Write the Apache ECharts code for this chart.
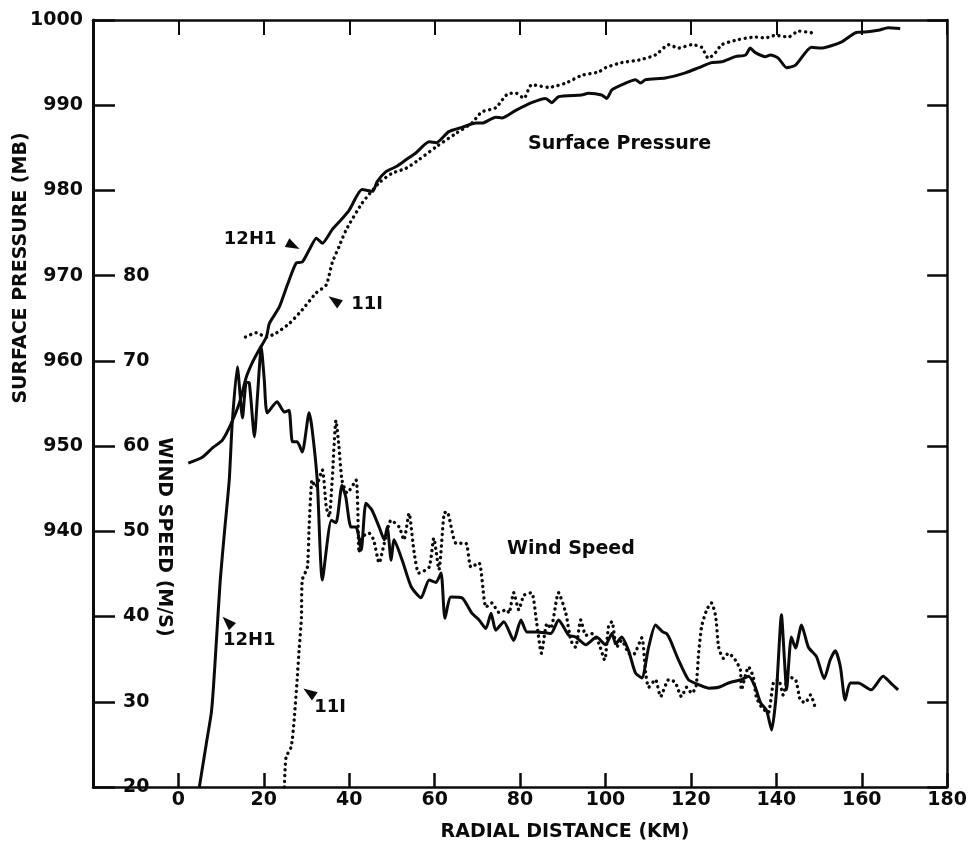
<!DOCTYPE html>
<html><head><meta charset="utf-8">
<script src="https://cdn.jsdelivr.net/npm/echarts@6/dist/echarts.min.js"></script>
<style>html,body{margin:0;padding:0;background:#fff}#c{width:970px;height:841px}</style>
</head><body><div id="c"></div>
<script>
// ---- data (radial distance km, value) ----
const xTickLabels = [0,20,40,60,80,100,120,140,160,180];
const pressureTickLabels = [940,950,960,970,980,990,1000];
const windTickLabels = [20,30,40,50,60,70,80];

const pressure12H1 = [[2.3,948],[5.6,948.7],[8,949.8],[10.3,950.7],[12.4,952.7],[14.3,955.1],[15.9,958.1],[17.3,959.8],[18.9,961.3],[20.6,962.8],[21.3,964.4],[23.6,966.3],[25.5,968.9],[27.6,971.5],[29,971.6],[30.6,973],[32.3,974.4],[33.7,973.8],[36,975.4],[38,976.5],[40,977.7],[43,980.1],[45.5,979.9],[46.5,981],[48.6,982.2],[51,982.8],[53.3,983.6],[55.6,984.4],[58.7,985.7],[60.4,985.6],[63.3,986.9],[66.4,987.4],[69.7,987.9],[71.1,987.9],[74.3,988.6],[75.7,988.5],[79,989.4],[82.7,990.3],[86,990.8],[87.4,990.3],[89,991],[94.4,991.2],[96,991.4],[99.1,991.2],[100.3,990.8],[101.5,991.8],[104.7,992.6],[107,993],[108.2,992.6],[109.4,993],[114,993.2],[118.7,993.8],[121.8,994.4],[124.8,995],[127.2,995.1],[130.4,995.7],[132.8,995.9],[133.9,996.7],[135,996.2],[137.4,995.7],[138.6,995.9],[140.5,995.5],[142.4,994.4],[144.5,994.7],[148.2,996.8],[150.5,996.7],[155.2,997.4],[158.5,998.5],[160.8,998.6],[163.9,998.8],[166.2,999.1],[169,999]];

const pressure11I = [[15.7,962.8],[18.2,963.3],[20.6,962.8],[23,963.3],[26,964.4],[29,966],[32.3,968],[34.6,968.9],[36,971.5],[37.6,973.4],[39.3,975.4],[43,978.5],[47,980.9],[50,982],[53.3,982.6],[56.3,983.6],[60.3,985.1],[65,986.7],[68.7,987.9],[71,989.2],[74.3,989.7],[77.4,991.4],[79.1,991.4],[80.9,990.8],[82.7,992.4],[86.7,992.1],[90.7,992.6],[94.4,993.5],[98.4,993.9],[100,994.4],[103.8,995],[107.8,995.3],[111.7,995.9],[114.8,997.1],[117.1,996.7],[120.2,997.1],[122.5,996.8],[124.1,995.5],[125.8,996.2],[127.2,997.1],[131.1,997.7],[135.1,998],[137.4,997.9],[139.8,998.2],[142.8,998],[145.2,998.7],[148.2,998.5]];

const wind12H1 = [[4.9,20],[6.5,25],[7.7,28.7],[8.2,31.7],[8.9,37.2],[9.8,44.3],[10.8,50],[11.9,56],[12.6,62.7],[13.8,69.3],[15,63.3],[15.9,67.5],[16.6,67.4],[17.8,61.1],[18.5,65.8],[19.4,71.6],[20.1,67.8],[20.8,63.9],[23.1,65.2],[24.8,64],[25.9,64.2],[26.7,60.5],[27.8,60.5],[29,59.3],[30.6,63.9],[31.3,62],[32.5,56],[33.7,44.3],[35.8,51.3],[36.9,51],[38.3,55.4],[39.2,54],[40.4,50.5],[41.6,50.5],[42.8,47.8],[43.9,53.3],[45.3,52.5],[47,50.5],[48.2,49],[48.9,50.5],[49.8,46.6],[50.5,49],[52.4,46.6],[54.5,43.5],[56.8,42.2],[58.7,44.3],[60.3,44],[61.5,45.1],[62.4,39.8],[63.8,42.3],[66.4,42.2],[68.7,40.4],[70.4,39.6],[72,38.6],[73.2,40.4],[74.3,38.4],[76.2,39.4],[78.5,37.2],[80.2,39.6],[81.6,38.2],[83.9,38.2],[87.2,38],[89,39.6],[91.4,37.8],[93,37.6],[95.4,36.7],[97.9,37.6],[100,36.7],[101.5,38],[102.4,36.8],[103.8,37.6],[105.4,36],[107,33.4],[108.5,32.8],[110.1,36.4],[111.7,39],[113.4,38.2],[114.3,38],[115.2,37.2],[117.1,34.9],[119.4,32.6],[121.8,32],[124.1,31.6],[126.5,31.7],[128.8,32.2],[131.8,32.6],[133.5,33],[135,31.8],[136.3,29.9],[137.7,29],[138.9,26.7],[140,31],[141.2,40.2],[141.9,34.9],[142.4,31.4],[143.5,37.6],[144.5,36.3],[145.9,39],[147.5,36.4],[149.4,35.3],[151.2,32.7],[152.6,34.9],[153.8,36],[155,34.1],[156.1,30.2],[157.3,32.2],[159.2,32.2],[162.2,31.4],[165,33],[166.8,32.2],[168.5,31.4]];

const wind11I = [[24.8,20],[25.2,23.5],[26.4,24.7],[27.1,27.9],[27.8,32.6],[28.3,36.4],[28.8,39.9],[29,44.3],[30.2,45.8],[30.6,50.5],[31.3,56],[32.1,55.2],[33.7,57.2],[34.6,52.9],[35.3,51.7],[36,56],[36.9,63],[37.6,59.9],[38.3,56],[39.5,54.5],[41.6,56],[42.3,47.5],[43,49.3],[44.6,49.8],[45.7,49],[47,46.3],[48.2,48.6],[49.8,51.3],[51.7,50.5],[52.8,49],[54,52.1],[55.2,47.5],[56.3,45.1],[58.7,45.8],[59.8,49.2],[61,45.5],[62.2,52.1],[62.9,52.3],[65,48.6],[67.3,48.6],[68.5,45.8],[70.4,46.3],[72,41.1],[73.4,41.6],[75,40.5],[76.9,40.8],[77.4,40.4],[78.5,42.8],[79.7,40.8],[80.9,42.5],[82.7,42.8],[83.9,39.2],[85,35.7],[86.3,39.2],[87.2,38.6],[89,42.8],[90.7,40.4],[91.9,37.2],[93,36.4],[94.2,39.6],[95.4,37.8],[96.8,38],[98.4,36.9],[99.8,34.9],[100.7,38.8],[101.5,39.4],[102.6,36.4],[103.8,37.2],[105.4,35.7],[106.5,35.5],[108.5,37.5],[109.4,33.4],[110.1,31.7],[111.7,32.6],[112.9,30.6],[114.8,32.6],[116.3,32.3],[117.8,30.6],[119,31.7],[120.2,31],[121.2,31.8],[121.8,35.7],[122.5,38.8],[123.7,40.8],[124.8,41.6],[125.8,40],[126.5,36.4],[127.6,35.1],[128.8,35.7],[130.4,34.9],[131.6,33.7],[131.8,31.4],[133.5,34.1],[134.6,32.9],[135.3,30.6],[136.5,29.4],[138.1,28.7],[139.3,32.2],[140.5,32.6],[141.6,30.8],[142.8,32.9],[144.5,32.6],[145.6,30.2],[146.8,29.9],[148,30.8],[149.1,29.3]];

// ---- chart ----
const INK = '#0b0b0b';
const FONT = 'DejaVu Sans';
const chart = echarts.init(document.getElementById('c'), null, {renderer: 'canvas'});

function textMark(coord, text, size) {
  return {coord: coord, symbol: 'circle', symbolSize: 1, itemStyle: {color: 'rgba(0,0,0,0)'},
    label: {show: true, position: 'inside', formatter: text, color: INK, fontFamily: FONT,
      fontWeight: 'bold', fontSize: size}};
}
function arrowMark(coord, rot) {
  return {coord: coord, symbol: 'triangle', symbolSize: [10, 14], symbolRotate: rot,
    itemStyle: {color: INK}, label: {show: false}};
}
const solid = {color: INK, width: 3};
const dotted = {color: INK, width: 3.4, type: [0.1, 5.6], cap: 'round'};
const TITLE_FONT = 'bold 19px "DejaVu Sans"';

const option = {
  animation: false,
  backgroundColor: '#fff',
  grid: {left: 93, right: 21, top: 20, bottom: 54},
  xAxis: [{
    type: 'value', min: -20, max: 180, interval: 20, position: 'bottom',
    axisLine: {onZero: false, lineStyle: {color: INK, width: 2.5}},
    axisTick: {inside: true, length: 14, lineStyle: {color: INK, width: 2.5}},
    axisLabel: {margin: 4, color: INK, fontFamily: FONT, fontWeight: 'bold', fontSize: 19,
      formatter: v => xTickLabels.indexOf(v) >= 0 ? String(v) : ''},
    splitLine: {show: false}
  }, {
    type: 'value', min: -20, max: 180, interval: 20, position: 'top',
    axisLine: {onZero: false, lineStyle: {color: INK, width: 2.5}},
    axisTick: {inside: true, length: 15, lineStyle: {color: INK, width: 2}},
    axisLabel: {show: false}, splitLine: {show: false}
  }],
  yAxis: [{
    type: 'value', min: 910, max: 1000, interval: 10, position: 'left',
    axisLine: {show: true, onZero: false, lineStyle: {color: INK, width: 3}},
    axisTick: {show: true, inside: true, length: 22, lineStyle: {color: INK, width: 2.5}},
    axisLabel: {margin: 10, color: INK, fontFamily: FONT, fontWeight: 'bold', fontSize: 19,
      formatter: v => pressureTickLabels.indexOf(v) >= 0 ? String(v) : ''},
    splitLine: {show: false}
  }, {
    type: 'value', min: 20, max: 110, interval: 10, position: 'left',
    axisLine: {show: false, onZero: false}, axisTick: {show: false},
    axisLabel: {inside: true, margin: 30, color: INK, fontFamily: FONT, fontWeight: 'bold', fontSize: 19,
      formatter: v => windTickLabels.indexOf(v) >= 0 ? String(v) : ''},
    splitLine: {show: false}
  }, {
    type: 'value', min: 910, max: 1000, interval: 10, position: 'right',
    axisLine: {show: true, onZero: false, lineStyle: {color: INK, width: 2.5}},
    axisTick: {show: true, inside: true, length: 20, lineStyle: {color: INK, width: 2.5}},
    axisLabel: {show: false}, splitLine: {show: false}
  }],
  series: [{
    name: 'Pressure 12H1', type: 'line', xAxisIndex: 0, yAxisIndex: 0, data: pressure12H1,
    showSymbol: false, smooth: 0.2, lineStyle: solid,
    markPoint: {data: [
      arrowMark([26.9, 973.5], -117),
      textMark([16.8, 974.3], '12H1', 18),
      textMark([103.3, 985.4], 'Surface Pressure', 19)
    ]}
  }, {
    name: 'Pressure 11I', type: 'line', xAxisIndex: 0, yAxisIndex: 0, data: pressure11I,
    showSymbol: false, smooth: 0.2, lineStyle: dotted,
    markPoint: {data: [
      arrowMark([36.5, 967.1], 55),
      textMark([44.2, 966.6], '11I', 18)
    ]}
  }, {
    name: 'Wind 12H1', type: 'line', xAxisIndex: 0, yAxisIndex: 1, data: wind12H1,
    showSymbol: false, smooth: 0.2, lineStyle: solid,
    markPoint: {data: [
      arrowMark([11.5, 39.4], 45),
      textMark([16.6, 37.2], '12H1', 18),
      textMark([91.9, 47.9], 'Wind Speed', 19)
    ]}
  }, {
    name: 'Wind 11I', type: 'line', xAxisIndex: 0, yAxisIndex: 1, data: wind11I,
    showSymbol: false, smooth: 0.2, lineStyle: dotted,
    markPoint: {data: [
      arrowMark([30.6, 31.1], 55),
      textMark([35.5, 29.4], '11I', 18)
    ]}
  }],
  graphic: [{
    type: 'text', x: 21, y: 268, rotation: Math.PI / 2,
    style: {text: 'SURFACE PRESSURE (MB)', fill: INK, font: TITLE_FONT,
      align: 'center', verticalAlign: 'middle', textAlign: 'center', textVerticalAlign: 'middle'}
  }, {
    type: 'text', x: 164, y: 537, rotation: -Math.PI / 2,
    style: {text: 'WIND SPEED (M/S)', fill: INK, font: TITLE_FONT,
      align: 'center', verticalAlign: 'middle', textAlign: 'center', textVerticalAlign: 'middle'}
  }, {
    type: 'text', x: 565, y: 832,
    style: {text: 'RADIAL DISTANCE (KM)', fill: INK, font: TITLE_FONT,
      align: 'center', verticalAlign: 'middle', textAlign: 'center', textVerticalAlign: 'middle'}
  }]
};
chart.setOption(option);
</script>
</body></html>
